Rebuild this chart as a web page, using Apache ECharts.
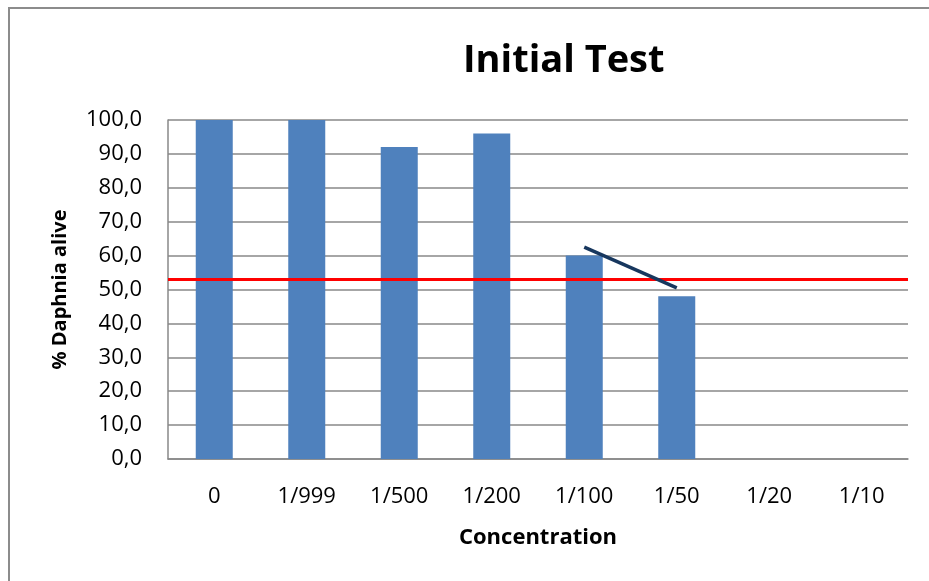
<!DOCTYPE html>
<html>
<head>
<meta charset="utf-8">
<script src="https://cdn.jsdelivr.net/npm/echarts@6/dist/echarts.min.js"></script>
<style>
  html, body { margin: 0; padding: 0; background: #fff; }
  #frame {
    position: absolute; left: 8px; top: 7px; width: 960px; height: 620px;
    border-left: 2px solid #8c8c8c; border-top: 2px solid #8c8c8c;
  }
  #main { position: absolute; left: 0; top: 0; width: 929px; height: 581px; }
</style>
</head>
<body>
<div id="frame"></div>
<div id="main"></div>
<script>
// data
var categories = ["0", "1/999", "1/500", "1/200", "1/100", "1/50", "1/20", "1/10"];
var alive = [100, 100, 92, 96, 60, 48, 0, 0];
var trendLine = [null, null, null, null, 62.5, 50.5, null, null];
var thresholdValue = 53;

var font = "'Open Sans', sans-serif";
var myChart = echarts.init(document.getElementById("main"));

myChart.setOption({
  animation: false,
  title: {
    text: "Initial Test",
    left: 458,
    top: 37,
    textStyle: { fontFamily: font, fontSize: 38, fontWeight: "bold", color: "#000" }
  },
  grid: { left: 168, right: 21, top: 120, bottom: 122 },
  xAxis: {
    type: "category",
    data: categories,
    name: "Concentration",
    nameLocation: "middle",
    nameGap: 68,
    nameTextStyle: { fontFamily: font, fontSize: 22, fontWeight: "bold", color: "#000" },
    axisLine: { lineStyle: { color: "#888", width: 1.5 } },
    axisTick: { show: false },
    axisLabel: { margin: 27, fontFamily: font, fontSize: 22, color: "#000" }
  },
  yAxis: {
    type: "value",
    min: 0,
    max: 100,
    interval: 10,
    name: "% Daphnia alive",
    nameLocation: "middle",
    nameRotate: 90,
    nameGap: 98,
    nameTextStyle: { fontFamily: font, fontSize: 20, fontWeight: "bold", color: "#000" },
    axisLine: { show: true, lineStyle: { color: "#888", width: 1.5 } },
    axisTick: { show: false },
    splitLine: { lineStyle: { color: "#888", width: 1.5 } },
    axisLabel: {
      margin: 26,
      fontFamily: font,
      fontSize: 22,
      color: "#000",
      formatter: function (v) { return v.toFixed(1).replace(".", ","); }
    }
  },
  series: [
    {
      name: "alive",
      type: "bar",
      data: alive,
      barWidth: 37,
      itemStyle: { color: "#4F81BD" },
      markLine: {
        silent: true,
        symbol: "none",
        label: { show: false },
        lineStyle: { color: "#FF0000", width: 3, type: "solid" },
        data: [{ yAxis: thresholdValue }]
      }
    },
    {
      name: "trend",
      type: "line",
      data: trendLine,
      symbol: "none",
      lineStyle: { color: "#17375E", width: 3.5 },
      z: 5
    }
  ]
});
</script>
</body>
</html>
